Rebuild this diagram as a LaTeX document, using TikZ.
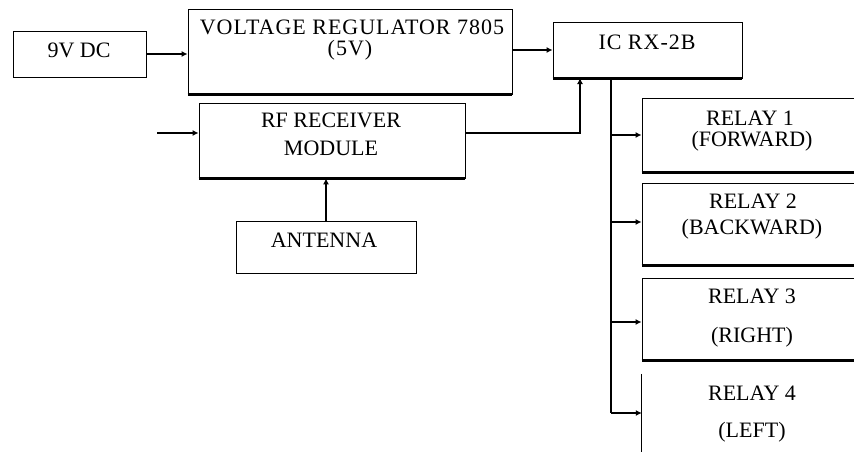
\documentclass[tikz,border=0pt]{standalone}
\usepackage{fontspec}
\setmainfont{Liberation Serif}
\usetikzlibrary{arrows.meta}
\begin{document}
\begin{tikzpicture}[x=1pt,y=-1pt,
  box/.style={draw, line width=0.9pt, inner sep=0pt},
  txt/.style={font=\fontsize{22}{26}\selectfont, inner sep=0pt, anchor=base},
  wide/.style={font=\fontsize{22}{26}\selectfont\addfontfeatures{LetterSpace=4.5}},
  conn/.style={line width=1.7pt, -{Latex[length=6pt,width=6pt]}},
  busline/.style={line width=1.7pt},
  baseedge/.style={line width=2.2pt}]
\useasboundingbox (0,0) rectangle (854,452);
\clip (0,0) rectangle (854,452);

% boxes
\node[box, minimum width=133pt, minimum height=46pt] (dc) at (80,54) {};
\node[box, minimum width=324pt, minimum height=85pt] (vr) at (350,51.5) {};
\node[box, minimum width=189pt, minimum height=56pt] (ic) at (647.5,50) {};
\node[box, minimum width=266pt, minimum height=75pt] (rf) at (332,140.5) {};
\node[box, minimum width=180pt, minimum height=52pt] (ant) at (326,247) {};
\node[box, minimum width=222pt, minimum height=74pt] (r1) at (753,135) {};
\node[box, minimum width=222pt, minimum height=82pt] (r2) at (753,224) {};
\node[box, minimum width=222pt, minimum height=82pt] (r3) at (753,319) {};
\node[inner sep=0pt, minimum width=222pt, minimum height=78pt] (r4) at (753,413) {};
\draw[line width=0.9pt] (r4.north west) -- (r4.south west);

% thicker bottom edges
\draw[baseedge] (vr.south west) -- (vr.south east);
\draw[baseedge] (ic.south west) -- (ic.south east);
\draw[baseedge] (rf.south west) -- (rf.south east);
\draw[baseedge] (r1.south west) -- (r1.south east);
\draw[baseedge] (r2.south west) -- (r2.south east);
\draw[baseedge] (r3.south west) -- (r3.south east);

% texts
\node[txt] (dct) at (79,58) {9V DC};
\node[txt, wide] (vrt1) at (352,35) {VOLTAGE REGULATOR 7805};
\node[txt, wide] (vrt2) at (350,56) {(5V)};
\node[txt, wide] (ict) at (647,49) {IC RX-2B};
\node[txt] (rft1) at (331,127) {RF RECEIVER};
\node[txt] (rft2) at (331,155) {MODULE};
\node[txt] (antt) at (324,247) {ANTENNA};
\node[txt] (r1t1) at (750,125) {RELAY 1};
\node[txt] (r1t2) at (752,146) {(FORWARD)};
\node[txt] (r2t1) at (753,208) {RELAY 2};
\node[txt] (r2t2) at (752,234) {(BACKWARD)};
\node[txt] (r3t1) at (752,303) {RELAY 3};
\node[txt] (r3t2) at (752,342) {(RIGHT)};
\node[txt] (r4t1) at (752,400) {RELAY 4};
\node[txt] (r4t2) at (752,437) {(LEFT)};

% connectors
\coordinate (rfin) at (157,133);
\coordinate (icin) at (580,78);
\coordinate (bustop) at (611,78);
\coordinate (busend) at (611,413);

\draw[conn] (dc.east) -- (dc.east -| vr.west);
\draw[conn] (vr.east |- ic.west) -- (ic.west);
\draw[conn] (rfin) -- (rfin -| rf.west);
\draw[conn] (rf.east |- rfin) -| (icin);
\draw[conn] (ant.north) -- (ant.north |- rf.south);
\draw[busline] (bustop) -- (busend);
\draw[conn] (bustop |- r1.west) -- (r1.west);
\draw[conn] (bustop |- 0,222) -- (r2.west |- 0,222);
\draw[conn] (bustop |- 0,322) -- (r3.west |- 0,322);
\draw[conn] (busend) -- (r4.west |- busend);
\end{tikzpicture}
\end{document}
